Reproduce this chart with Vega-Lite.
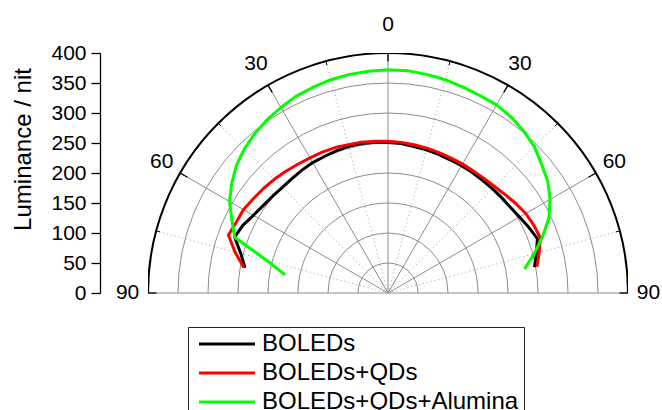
{
  "$schema": "https://vega.github.io/schema/vega-lite/v6.json",
  "width": 480,
  "height": 240,
  "autosize": {"type": "none"},
  "padding": {"left": 148, "top": 53, "right": 34, "bottom": 117},
  "background": "white",
  "config": {
    "view": {"stroke": null},
    "font": "Liberation Sans",
    "aria": false,
    "axisY": {
      "offset": 48,
      "grid": false,
      "domainColor": "black",
      "domainWidth": 1.3,
      "tickColor": "black",
      "tickWidth": 1.3,
      "tickSize": 9,
      "labelFont": "Liberation Sans",
      "labelFontSize": 21,
      "labelColor": "black",
      "labelPadding": 5,
      "labelFlush": false,
      "labelOverlap": false,
      "titleFont": "Liberation Sans",
      "titleFontSize": 24,
      "titleFontWeight": "normal",
      "titleColor": "black",
      "titlePadding": 15,
      "titleY": 96
    }
  },
  "datasets": {
    "rings": [{"r": 50}, {"r": 100}, {"r": 150}, {"r": 200}, {"r": 250}, {"r": 300}, {"r": 350}],
    "outer": [{"r": 400}],
    "major": [{"a": -90}, {"a": -60}, {"a": -30}, {"a": 0}, {"a": 30}, {"a": 60}, {"a": 90}],
    "minor": [{"a": -75}, {"a": -45}, {"a": -15}, {"a": 15}, {"a": 45}, {"a": 75}],
    "labels": [
      {"a": -90, "t": "90"}, {"a": -60, "t": "60"}, {"a": -30, "t": "30"}, {"a": 0, "t": "0"},
      {"a": 30, "t": "30"}, {"a": 60, "t": "60"}, {"a": 90, "t": "90"}
    ],
    "curves": [
      {"s": "BOLEDs", "a": -80, "v": 242}, {"s": "BOLEDs", "a": -75, "v": 254}, {"s": "BOLEDs", "a": -70, "v": 272},
      {"s": "BOLEDs", "a": -65, "v": 267}, {"s": "BOLEDs", "a": -60, "v": 259}, {"s": "BOLEDs", "a": -55, "v": 254},
      {"s": "BOLEDs", "a": -50, "v": 251}, {"s": "BOLEDs", "a": -45, "v": 249}, {"s": "BOLEDs", "a": -40, "v": 249},
      {"s": "BOLEDs", "a": -35, "v": 250}, {"s": "BOLEDs", "a": -30, "v": 251}, {"s": "BOLEDs", "a": -25, "v": 251},
      {"s": "BOLEDs", "a": -20, "v": 252}, {"s": "BOLEDs", "a": -15, "v": 253}, {"s": "BOLEDs", "a": -10, "v": 253},
      {"s": "BOLEDs", "a": -5, "v": 252}, {"s": "BOLEDs", "a": 0, "v": 251}, {"s": "BOLEDs", "a": 5, "v": 250},
      {"s": "BOLEDs", "a": 10, "v": 248}, {"s": "BOLEDs", "a": 15, "v": 247}, {"s": "BOLEDs", "a": 20, "v": 246},
      {"s": "BOLEDs", "a": 25, "v": 245}, {"s": "BOLEDs", "a": 30, "v": 245}, {"s": "BOLEDs", "a": 35, "v": 245},
      {"s": "BOLEDs", "a": 40, "v": 245}, {"s": "BOLEDs", "a": 45, "v": 246}, {"s": "BOLEDs", "a": 50, "v": 247},
      {"s": "BOLEDs", "a": 55, "v": 249}, {"s": "BOLEDs", "a": 60, "v": 253}, {"s": "BOLEDs", "a": 65, "v": 259},
      {"s": "BOLEDs", "a": 70, "v": 265}, {"s": "BOLEDs", "a": 75, "v": 256}, {"s": "BOLEDs", "a": 80, "v": 248},

      {"s": "BOLEDs+QDs", "a": -80, "v": 244}, {"s": "BOLEDs+QDs", "a": -75, "v": 264}, {"s": "BOLEDs+QDs", "a": -70, "v": 283},
      {"s": "BOLEDs+QDs", "a": -65, "v": 279}, {"s": "BOLEDs+QDs", "a": -60, "v": 278}, {"s": "BOLEDs+QDs", "a": -55, "v": 274},
      {"s": "BOLEDs+QDs", "a": -50, "v": 271}, {"s": "BOLEDs+QDs", "a": -45, "v": 268}, {"s": "BOLEDs+QDs", "a": -40, "v": 265},
      {"s": "BOLEDs+QDs", "a": -35, "v": 262}, {"s": "BOLEDs+QDs", "a": -30, "v": 260}, {"s": "BOLEDs+QDs", "a": -25, "v": 259},
      {"s": "BOLEDs+QDs", "a": -20, "v": 258}, {"s": "BOLEDs+QDs", "a": -15, "v": 256}, {"s": "BOLEDs+QDs", "a": -10, "v": 255},
      {"s": "BOLEDs+QDs", "a": -5, "v": 254}, {"s": "BOLEDs+QDs", "a": 0, "v": 253}, {"s": "BOLEDs+QDs", "a": 5, "v": 252},
      {"s": "BOLEDs+QDs", "a": 10, "v": 251}, {"s": "BOLEDs+QDs", "a": 15, "v": 250}, {"s": "BOLEDs+QDs", "a": 20, "v": 249},
      {"s": "BOLEDs+QDs", "a": 25, "v": 248}, {"s": "BOLEDs+QDs", "a": 30, "v": 248}, {"s": "BOLEDs+QDs", "a": 35, "v": 248},
      {"s": "BOLEDs+QDs", "a": 40, "v": 249}, {"s": "BOLEDs+QDs", "a": 45, "v": 251}, {"s": "BOLEDs+QDs", "a": 50, "v": 255},
      {"s": "BOLEDs+QDs", "a": 55, "v": 260}, {"s": "BOLEDs+QDs", "a": 60, "v": 265}, {"s": "BOLEDs+QDs", "a": 65, "v": 268},
      {"s": "BOLEDs+QDs", "a": 70, "v": 270}, {"s": "BOLEDs+QDs", "a": 75, "v": 261}, {"s": "BOLEDs+QDs", "a": 80, "v": 252},

      {"s": "BOLEDs+QDs+Alumina", "a": -80, "v": 174}, {"s": "BOLEDs+QDs+Alumina", "a": -75, "v": 209}, {"s": "BOLEDs+QDs+Alumina", "a": -70, "v": 272},
      {"s": "BOLEDs+QDs+Alumina", "a": -65, "v": 287}, {"s": "BOLEDs+QDs+Alumina", "a": -60, "v": 305}, {"s": "BOLEDs+QDs+Alumina", "a": -55, "v": 318},
      {"s": "BOLEDs+QDs+Alumina", "a": -50, "v": 330}, {"s": "BOLEDs+QDs+Alumina", "a": -45, "v": 339}, {"s": "BOLEDs+QDs+Alumina", "a": -40, "v": 346},
      {"s": "BOLEDs+QDs+Alumina", "a": -35, "v": 352}, {"s": "BOLEDs+QDs+Alumina", "a": -30, "v": 357}, {"s": "BOLEDs+QDs+Alumina", "a": -25, "v": 362},
      {"s": "BOLEDs+QDs+Alumina", "a": -20, "v": 365}, {"s": "BOLEDs+QDs+Alumina", "a": -15, "v": 368}, {"s": "BOLEDs+QDs+Alumina", "a": -10, "v": 370},
      {"s": "BOLEDs+QDs+Alumina", "a": -5, "v": 371}, {"s": "BOLEDs+QDs+Alumina", "a": 0, "v": 372}, {"s": "BOLEDs+QDs+Alumina", "a": 5, "v": 372},
      {"s": "BOLEDs+QDs+Alumina", "a": 10, "v": 370}, {"s": "BOLEDs+QDs+Alumina", "a": 15, "v": 368}, {"s": "BOLEDs+QDs+Alumina", "a": 20, "v": 365},
      {"s": "BOLEDs+QDs+Alumina", "a": 25, "v": 363}, {"s": "BOLEDs+QDs+Alumina", "a": 30, "v": 362}, {"s": "BOLEDs+QDs+Alumina", "a": 35, "v": 358},
      {"s": "BOLEDs+QDs+Alumina", "a": 40, "v": 352}, {"s": "BOLEDs+QDs+Alumina", "a": 45, "v": 345}, {"s": "BOLEDs+QDs+Alumina", "a": 50, "v": 334},
      {"s": "BOLEDs+QDs+Alumina", "a": 55, "v": 325}, {"s": "BOLEDs+QDs+Alumina", "a": 60, "v": 312}, {"s": "BOLEDs+QDs+Alumina", "a": 65, "v": 296},
      {"s": "BOLEDs+QDs+Alumina", "a": 70, "v": 274}, {"s": "BOLEDs+QDs+Alumina", "a": 75, "v": 252}, {"s": "BOLEDs+QDs+Alumina", "a": 80, "v": 231}
    ]
  },
  "layer": [
    {
      "data": {"name": "rings"},
      "mark": {"type": "point", "shape": "circle", "filled": false, "stroke": "#8c8c8c", "strokeWidth": 1, "opacity": 1, "clip": true},
      "encoding": {
        "x": {"datum": 0, "type": "quantitative", "scale": {"domain": [-400, 400], "nice": false, "zero": false}, "axis": null},
        "y": {"datum": 0, "type": "quantitative", "scale": {"domain": [0, 400], "nice": false}, "axis": {"title": "Luminance / nit", "values": [0, 50, 100, 150, 200, 250, 300, 350, 400]}},
        "size": {"field": "r", "type": "quantitative", "scale": {"type": "pow", "exponent": 2, "domain": [0, 400], "range": [0, 230400], "zero": true, "nice": false}, "legend": null}
      }
    },
    {
      "data": {"name": "minor"},
      "transform": [
        {"calculate": "0", "as": "c"},
        {"calculate": "400*sin(datum.a*PI/180)", "as": "sx"},
        {"calculate": "400*cos(datum.a*PI/180)", "as": "sy"}
      ],
      "mark": {"type": "rule", "stroke": "#a0a0a0", "strokeWidth": 1, "strokeDash": [1, 3]},
      "encoding": {
        "x": {"field": "c", "type": "quantitative", "scale": {"domain": [-400, 400], "nice": false, "zero": false}, "axis": null},
        "y": {"field": "c", "type": "quantitative", "scale": {"domain": [0, 400], "nice": false}, "axis": {"title": "Luminance / nit", "values": [0, 50, 100, 150, 200, 250, 300, 350, 400]}},
        "x2": {"field": "sx"},
        "y2": {"field": "sy"}
      }
    },
    {
      "data": {"name": "major"},
      "transform": [
        {"calculate": "0", "as": "c"},
        {"calculate": "400*sin(datum.a*PI/180)", "as": "sx"},
        {"calculate": "400*cos(datum.a*PI/180)", "as": "sy"}
      ],
      "mark": {"type": "rule", "stroke": "#8c8c8c", "strokeWidth": 1},
      "encoding": {
        "x": {"field": "c", "type": "quantitative", "scale": {"domain": [-400, 400], "nice": false, "zero": false}, "axis": null},
        "y": {"field": "c", "type": "quantitative", "scale": {"domain": [0, 400], "nice": false}, "axis": {"title": "Luminance / nit", "values": [0, 50, 100, 150, 200, 250, 300, 350, 400]}},
        "x2": {"field": "sx"},
        "y2": {"field": "sy"}
      }
    },
    {
      "data": {"name": "outer"},
      "mark": {"type": "point", "shape": "circle", "filled": false, "stroke": "black", "strokeWidth": 2, "opacity": 1, "clip": true},
      "encoding": {
        "x": {"datum": 0, "type": "quantitative", "scale": {"domain": [-400, 400], "nice": false, "zero": false}, "axis": null},
        "y": {"datum": 0, "type": "quantitative", "scale": {"domain": [0, 400], "nice": false}, "axis": {"title": "Luminance / nit", "values": [0, 50, 100, 150, 200, 250, 300, 350, 400]}},
        "size": {"field": "r", "type": "quantitative", "scale": {"type": "pow", "exponent": 2, "domain": [0, 400], "range": [0, 230400], "zero": true, "nice": false}, "legend": null}
      }
    },
    {
      "data": {"name": "major"},
      "transform": [
        {"calculate": "400*sin(datum.a*PI/180)", "as": "x1"},
        {"calculate": "400*cos(datum.a*PI/180)", "as": "y1"},
        {"calculate": "386*sin(datum.a*PI/180)", "as": "x2"},
        {"calculate": "386*cos(datum.a*PI/180)", "as": "y2"}
      ],
      "mark": {"type": "rule", "stroke": "black", "strokeWidth": 1.3},
      "encoding": {
        "x": {"field": "x1", "type": "quantitative", "scale": {"domain": [-400, 400], "nice": false, "zero": false}, "axis": null},
        "y": {"field": "y1", "type": "quantitative", "scale": {"domain": [0, 400], "nice": false}, "axis": {"title": "Luminance / nit", "values": [0, 50, 100, 150, 200, 250, 300, 350, 400]}},
        "x2": {"field": "x2"},
        "y2": {"field": "y2"}
      }
    },
    {
      "data": {"name": "minor"},
      "transform": [
        {"calculate": "400*sin(datum.a*PI/180)", "as": "x1"},
        {"calculate": "400*cos(datum.a*PI/180)", "as": "y1"},
        {"calculate": "393*sin(datum.a*PI/180)", "as": "x2"},
        {"calculate": "393*cos(datum.a*PI/180)", "as": "y2"}
      ],
      "mark": {"type": "rule", "stroke": "black", "strokeWidth": 1},
      "encoding": {
        "x": {"field": "x1", "type": "quantitative", "scale": {"domain": [-400, 400], "nice": false, "zero": false}, "axis": null},
        "y": {"field": "y1", "type": "quantitative", "scale": {"domain": [0, 400], "nice": false}, "axis": {"title": "Luminance / nit", "values": [0, 50, 100, 150, 200, 250, 300, 350, 400]}},
        "x2": {"field": "x2"},
        "y2": {"field": "y2"}
      }
    },
    {
      "data": {"name": "curves"},
      "transform": [
        {"calculate": "datum.v*sin(datum.a*PI/180)", "as": "px"},
        {"calculate": "datum.v*cos(datum.a*PI/180)", "as": "py"}
      ],
      "mark": {"type": "line", "strokeWidth": 3, "strokeJoin": "round"},
      "encoding": {
        "x": {"field": "px", "type": "quantitative", "scale": {"domain": [-400, 400], "nice": false, "zero": false}, "axis": null},
        "y": {"field": "py", "type": "quantitative", "scale": {"domain": [0, 400], "nice": false}, "axis": {"title": "Luminance / nit", "values": [0, 50, 100, 150, 200, 250, 300, 350, 400]}},
        "order": {"field": "a", "type": "quantitative"},
        "color": {
          "field": "s", "type": "nominal",
          "scale": {"domain": ["BOLEDs", "BOLEDs+QDs", "BOLEDs+QDs+Alumina"], "range": ["#000000", "#ff0000", "#00ff00"]},
          "legend": {
            "orient": "none",
            "legendX": 40,
            "legendY": 274,
            "title": null,
            "direction": "vertical",
            "strokeColor": "#222222",
            "fillColor": "white",
            "padding": 5,
            "cornerRadius": 0,
            "symbolType": "M-0.571,0H4.762",
            "symbolSize": 441,
            "symbolStrokeWidth": 3,
            "symbolOffset": 0,
            "labelFont": "Liberation Sans",
            "labelFontSize": 24,
            "labelColor": "black",
            "labelOffset": 45,
            "labelLimit": 500,
            "rowPadding": 5
          }
        }
      }
    },
    {
      "data": {"name": "labels"},
      "transform": [
        {"calculate": "(446 - 12*abs(sin(datum.a*PI/180)))*sin(datum.a*PI/180)", "as": "lx"},
        {"calculate": "(446 - 12*abs(sin(datum.a*PI/180)))*cos(datum.a*PI/180)", "as": "ly"}
      ],
      "mark": {"type": "text", "font": "Liberation Sans", "fontSize": 21, "color": "black", "align": "center", "baseline": "middle"},
      "encoding": {
        "x": {"field": "lx", "type": "quantitative", "scale": {"domain": [-400, 400], "nice": false, "zero": false}, "axis": null},
        "y": {"field": "ly", "type": "quantitative", "scale": {"domain": [0, 400], "nice": false}, "axis": {"title": "Luminance / nit", "values": [0, 50, 100, 150, 200, 250, 300, 350, 400]}},
        "text": {"field": "t"}
      }
    }
  ]
}
